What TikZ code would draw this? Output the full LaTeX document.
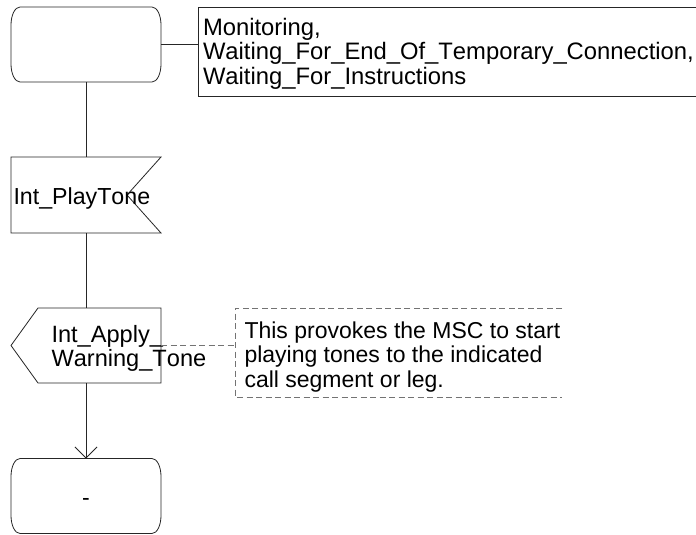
\documentclass[tikz,border=0pt]{standalone}
\usepackage{fontspec}
\setmainfont[Kerning=Off]{Liberation Sans}
\usetikzlibrary{arrows.meta}
\newcommand\sdlstateshape[1]{%
  \draw[sdlline] ([xshift=9pt]#1.north west) -- ([xshift=-9pt]#1.north east)
    .. controls ([xshift=-4pt]#1.north east) and ([yshift=-8pt]#1.north east) .. ([yshift=-18pt]#1.north east)
    -- ([yshift=18pt]#1.south east)
    .. controls ([yshift=8pt]#1.south east) and ([xshift=-4pt]#1.south east) .. ([xshift=-9pt]#1.south east)
    -- ([xshift=9pt]#1.south west)
    .. controls ([xshift=4pt]#1.south west) and ([yshift=8pt]#1.south west) .. ([yshift=18pt]#1.south west)
    -- ([yshift=-18pt]#1.north west)
    .. controls ([yshift=-8pt]#1.north west) and ([xshift=4pt]#1.north west) .. ([xshift=9pt]#1.north west) -- cycle;}
\begin{document}
\begin{tikzpicture}[x=1pt,y=-1pt,
  sdlline/.style={draw=black!85,line width=0.8pt},
  dashline/.style={draw=black!55,line width=0.8pt,dash pattern=on 6pt off 3.5pt},
  shapebox/.style={draw=none,inner sep=0pt,outer sep=0pt,minimum width=150pt},
  txt/.style={inner sep=0pt,outer sep=0pt,font=\fontsize{23}{24.5}\selectfont,align=left,text=black}]
\useasboundingbox[fill=white] (0,0) rectangle (696,535);
% start state
\node[shapebox,minimum height=75pt] (s1) at (86,44.5) {};
\sdlstateshape{s1}
% state name box (open to the right)
\coordinate (tbl) at (198,44.5);
\draw[sdlline] (696,7) -- (198,7) -- (198,96) -- (696,96);
\node[txt,font=\fontsize{23.8}{24.4}\selectfont,anchor=north west] (tb) at (203,18.3) {Monitoring,\\Waiting\_For\_End\_Of\_Temporary\_Connection,\\Waiting\_For\_Instructions};
\draw[sdlline] (s1.east) -- (tbl);
% input signal
\node[shapebox,minimum height=76pt] (pt) at (86,195) {};
\draw[sdlline] (pt.north west) -- (pt.north east) -- ([xshift=-34pt]pt.east) -- (pt.south east) -- (pt.south west) -- cycle;
\node[txt,font=\fontsize{23.2}{24.5}\selectfont,anchor=base west] (ptt) at (13.5,204) {Int\_PlayTone};
% output signal
\node[shapebox,minimum height=75pt] (aw) at (86,345.5) {};
\draw[sdlline] (aw.west) -- ([xshift=27pt]aw.north west) -- (aw.north east) -- (aw.south east) -- ([xshift=27pt]aw.south west) -- cycle;
\node[txt,font=\fontsize{23.6}{24.5}\selectfont,anchor=north west] (awt) at (51.5,325) {Int\_Apply\_\\Warning\_Tone};
% comment
\coordinate (cl) at (235,345.5);
\draw[dashline] (562,308) -- (235,308) -- (235,397) -- (562,397);
\node[txt,anchor=north west] (cm) at (244.5,321.7) {This provokes the MSC to start\\playing tones to the indicated\\call segment or leg.};
\draw[dashline] (aw.east) -- (cl);
% end state
\node[shapebox,minimum height=75pt] (s2) at (86,496) {};
\sdlstateshape{s2}
\node[txt,anchor=base] (s2t) at (86,505) {-};
% connectors
\draw[sdlline] (s1.south) -- (pt.north);
\draw[sdlline] (pt.south) -- (aw.north);
\draw[sdlline,-{Straight Barb[length=11pt,width=22pt]}] (aw.south) -- (s2.north);
\end{tikzpicture}
\end{document}
